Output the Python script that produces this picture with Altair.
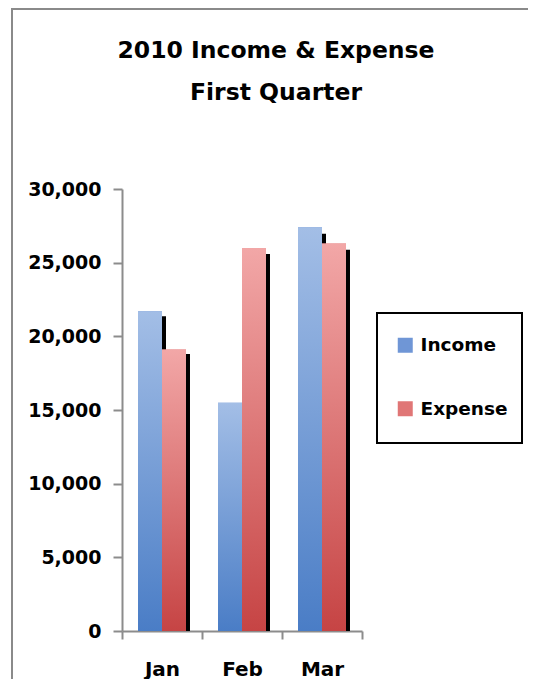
import altair as alt
import pandas as pd

months = ["Jan", "Feb", "Mar"]
series = ["Income", "Expense"]
income = [21700, 15500, 27400]
expense = [19100, 26000, 26300]
y_ticks = [0, 5000, 10000, 15000, 20000, 25000, 30000]
title_lines = ["2010 Income & Expense", "First Quarter"]

rows = []
for m, i, e in zip(months, income, expense):
    rows.append({"month": m, "series": "Income", "value": i})
    rows.append({"month": m, "series": "Expense", "value": e})
df = pd.DataFrame(rows)

FONT = "DejaVu Sans"
GRAY = "#8c8c8c"

x_enc = alt.X("month:N", sort=months, title=None,
              scale=alt.Scale(paddingInner=0, paddingOuter=0),
              axis=alt.Axis(labelAngle=0, tickBand="extent", tickSize=8, tickWidth=2,
                            tickColor=GRAY, domainColor=GRAY, domainWidth=2,
                            labelFont=FONT, labelFontWeight="bold", labelFontSize=20,
                            labelColor="black", labelPadding=20, grid=False))

y_axis = alt.Axis(values=y_ticks, format=",.0f", tickSize=9, tickWidth=2,
                  tickColor=GRAY, domainColor=GRAY, domainWidth=2,
                  gridColor=GRAY, gridWidth=2, labelFont=FONT,
                  labelFontWeight="bold", labelFontSize=19,
                  labelColor="black", labelPadding=12)

def y_enc(axis=None, rng=None):
    if rng is None:
        sc = alt.Scale(domain=[0, 30000], nice=False)
    else:
        sc = alt.Scale(domain=[0, 30000], nice=False, range=rng)
    if axis is None:
        return alt.Y("value:Q", title=None, scale=sc, axis=None)
    return alt.Y("value:Q", title=None, scale=sc, axis=axis)

def xo(rng):
    sc = alt.Scale(domain=series, paddingInner=0, paddingOuter=0.667, range=rng)
    return alt.XOffset("series:N", sort=series, scale=sc)

shadow = alt.Chart(df).mark_bar(color="black").encode(
    x=x_enc, xOffset=xo([4, 84]), y=y_enc(rng=[442, 7]))

legend_bars = alt.Chart(df).mark_bar().encode(
    x=x_enc, xOffset=xo([0, 80]), y=y_enc(axis=y_axis),
    color=alt.Color("series:N", sort=series,
                    scale=alt.Scale(domain=series, range=["#6f96d6", "#e07676"]),
                    legend=alt.Legend(title=None, orient="none", legendX=274, legendY=147,
                                      padding=0, symbolType="square", symbolSize=225,
                                      symbolStrokeWidth=0, labelFont=FONT,
                                      labelFontWeight="bold", labelFontSize=18.5,
                                      labelColor="black", labelOffset=6))
)

def grad(top, bottom):
    return alt.Gradient(gradient="linear",
                        stops=[alt.GradientStop(color=top, offset=0),
                               alt.GradientStop(color=bottom, offset=1)],
                        x1=0, x2=0, y1=0, y2=1)

inc_bars = alt.Chart(df).transform_filter(alt.datum.series == "Income").mark_bar(
    color=grad("#a3bee6", "#4a7dc6")).encode(x=x_enc, xOffset=xo([0, 80]), y=y_enc())
exp_bars = alt.Chart(df).transform_filter(alt.datum.series == "Expense").mark_bar(
    color=grad("#f2a7a7", "#c64444")).encode(x=x_enc, xOffset=xo([0, 80]), y=y_enc())

frame_df = pd.DataFrame({"f": [0]})
frame_left = alt.Chart(frame_df).mark_rule(color="#8a8a8a", strokeWidth=2).encode(
    x=alt.value(-110), y=alt.value(-181), y2=alt.value(540))
frame_top = alt.Chart(frame_df).mark_rule(color="#8a8a8a", strokeWidth=2).encode(
    x=alt.value(-110), x2=alt.value(430), y=alt.value(-180))

legend_box = alt.Chart(frame_df).mark_rect(fill="white", stroke="black", strokeWidth=2).encode(
    x=alt.value(255), x2=alt.value(400), y=alt.value(124), y2=alt.value(254))

title = alt.Chart(frame_df).mark_text(
    font=FONT, fontSize=23.5, fontWeight="bold", color="black", align="center",
    baseline="alphabetic", lineHeight=42).encode(
    x=alt.value(154), y=alt.value(-131), text=alt.value(title_lines))

chart = alt.layer(frame_left, frame_top, legend_box, shadow, legend_bars, inc_bars, exp_bars, title).resolve_scale(
    xOffset="independent", y="independent"
).properties(
    width=240, height=442,
    autosize=alt.AutoSizeParams(type="none"),
    padding={"left": 114, "top": 181, "right": 166, "bottom": 48},
    background="white",
).configure_view(stroke=None).configure_legend(rowPadding=44.5)

chart.save("out.html", embed_options={"renderer": "svg", "actions": False})
